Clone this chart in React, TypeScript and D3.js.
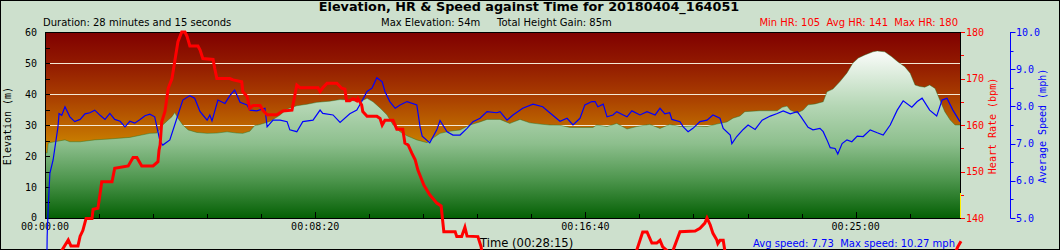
import React from "react";
import * as d3 from "d3";

// ---- data (time in seconds) ----
const elevTime = [0, 4, 6, 18, 37, 46, 65, 92, 120, 157, 194, 207, 218, 228, 235, 240, 246, 255, 265, 281, 300, 318, 337, 355, 366, 379, 388, 398, 416, 435, 448, 466, 485, 503, 527, 546, 564, 583, 596, 607, 620, 633, 644, 657, 670, 688, 707, 718, 731, 749, 768, 786, 805, 818, 842, 860, 879, 897, 916, 934, 953, 971, 990, 1014, 1021, 1040, 1058, 1077, 1095, 1119, 1138, 1156, 1175, 1199, 1225, 1243, 1262, 1273, 1286, 1295, 1323, 1355, 1364, 1373, 1379, 1392, 1403, 1412, 1425, 1440, 1447, 1458, 1471, 1484, 1495, 1505, 1517, 1532, 1540, 1554, 1567, 1578, 1591, 1601, 1610, 1619, 1628, 1637, 1647, 1656, 1665, 1675, 1684, 1695];
const elevValue = [21, 21, 24.2, 24.6, 25.2, 24.6, 24.6, 25.2, 25.5, 26, 27.3, 27.4, 30, 31.6, 32.7, 34, 32.2, 30, 28.4, 27.6, 27.3, 27.4, 27.8, 27.4, 27.3, 28, 29.8, 30.2, 31.1, 33.2, 35.2, 36.2, 36.7, 37.3, 37.7, 38.2, 38, 37.5, 38.6, 37.5, 35.5, 33.2, 30, 27.8, 26.5, 25.2, 24.3, 25.8, 27.3, 28, 28.4, 30, 31, 31.8, 31.8, 30.5, 31.8, 30.7, 30.3, 30, 29.9, 29.2, 29.2, 29.2, 30, 29.5, 30.5, 28.7, 29.5, 30.2, 28.9, 30.2, 29.5, 29.7, 29.5, 30.3, 31, 32.2, 32.9, 34.3, 34.6, 34.6, 35.7, 36.1, 34.8, 33.9, 34.8, 36.5, 36.8, 37.5, 40.7, 41.6, 44, 46.8, 50, 51.6, 52.6, 53.6, 53.9, 53.6, 52, 50.4, 48.8, 46.7, 42.9, 42.4, 42.2, 42.9, 41.8, 38, 34.3, 31.6, 30, 30];

const speedTime = [0, 4, 6, 9, 15, 24, 26, 31, 37, 46, 55, 65, 74, 83, 92, 102, 111, 120, 129, 139, 148, 157, 166, 176, 185, 194, 203, 213, 218, 231, 244, 255, 268, 277, 287, 300, 305, 309, 320, 333, 342, 351, 361, 374, 379, 392, 407, 411, 422, 435, 448, 453, 466, 477, 496, 509, 514, 533, 546, 564, 577, 586, 596, 605, 614, 624, 629, 638, 648, 657, 670, 688, 694, 698, 712, 725, 731, 744, 755, 768, 781, 792, 805, 818, 836, 842, 855, 866, 884, 903, 921, 934, 953, 966, 977, 990, 999, 1012, 1018, 1023, 1033, 1040, 1051, 1058, 1070, 1077, 1086, 1101, 1114, 1129, 1138, 1147, 1156, 1160, 1175, 1181, 1190, 1199, 1212, 1225, 1236, 1249, 1255, 1268, 1271, 1280, 1292, 1301, 1314, 1327, 1342, 1355, 1366, 1379, 1392, 1399, 1412, 1421, 1434, 1440, 1447, 1453, 1462, 1467, 1475, 1484, 1493, 1503, 1514, 1527, 1540, 1551, 1564, 1577, 1588, 1604, 1614, 1623, 1637, 1650, 1660, 1669, 1680, 1693];
const speedValue = [0, 4.5, 5.3, 6.2, 6.56, 7.45, 7.81, 7.76, 7.99, 7.72, 7.59, 7.65, 7.8, 7.83, 7.9, 7.76, 7.65, 7.81, 7.65, 7.6, 7.45, 7.6, 7.55, 7.65, 7.75, 7.79, 7.72, 7.05, 6.96, 7.1, 7.68, 8.17, 8.29, 8.22, 7.86, 7.63, 7.77, 7.61, 8.17, 8.08, 8.29, 8.44, 8.11, 8.04, 7.9, 7.88, 7.95, 7.45, 7.63, 7.63, 7.59, 7.37, 7.32, 7.59, 7.63, 7.9, 7.81, 7.77, 7.57, 7.8, 7.9, 8.13, 8.4, 8.49, 8.77, 8.66, 8.4, 8.13, 7.95, 8.04, 8.13, 8.04, 7.45, 7.2, 7.02, 7.37, 7.62, 7.32, 7.23, 7.23, 7.41, 7.59, 7.68, 7.86, 7.83, 7.86, 7.63, 7.77, 7.95, 8.06, 7.99, 7.83, 7.6, 7.68, 7.5, 7.68, 8.04, 8.13, 8.13, 7.99, 8.06, 7.72, 7.77, 7.86, 7.77, 7.72, 7.88, 7.77, 7.86, 7.77, 7.95, 7.8, 7.83, 7.65, 7.59, 7.45, 7.32, 7.41, 7.59, 7.63, 7.77, 7.68, 7.41, 7.23, 7.0, 7.19, 7.38, 7.5, 7.38, 7.63, 7.74, 7.81, 7.88, 7.8, 7.86, 7.72, 7.44, 7.37, 7.41, 7.32, 7.1, 6.89, 6.87, 6.72, 7.0, 7.1, 7.05, 7.2, 7.19, 7.37, 7.29, 7.23, 7.5, 7.9, 8.15, 7.98, 8.13, 8.22, 7.9, 7.74, 8.17, 8.22, 7.9, 7.59];

const hrTime = [0, 18, 31, 43, 48, 61, 65, 70, 76, 87, 89, 98, 102, 105, 124, 129, 154, 163, 170, 179, 200, 209, 211, 213, 216, 222, 228, 235, 240, 246, 253, 259, 263, 268, 283, 287, 292, 311, 314, 318, 342, 348, 364, 366, 374, 379, 385, 398, 403, 411, 429, 440, 457, 466, 472, 505, 509, 514, 522, 540, 549, 555, 558, 564, 570, 577, 579, 586, 588, 596, 614, 620, 624, 629, 644, 651, 662, 666, 672, 679, 685, 690, 701, 712, 725, 733, 738, 759, 762, 771, 777, 781, 801, 807, 814, 842, 953, 1064, 1088, 1095, 1106, 1114, 1123, 1132, 1138, 1143, 1151, 1156, 1162, 1175, 1203, 1212, 1221, 1225, 1231, 1236, 1243, 1245, 1249, 1255, 1258, 1268, 1397, 1582, 1675, 1689, 1695];
const hrValue = [105, 118, 133, 135.3, 134, 134, 136.1, 137.3, 139.9, 139.9, 141.9, 142.1, 145.3, 147.8, 147.8, 150.7, 151.2, 153, 153, 151.2, 151.2, 152.1, 154.6, 155.7, 160.7, 162.9, 167.9, 170, 173.6, 177.9, 180, 180, 179, 177, 177, 176.1, 174.3, 174.1, 172.2, 170, 170, 169.7, 169.3, 167.2, 166.1, 163.6, 164.2, 164.2, 163.2, 162.2, 162.2, 163, 163.2, 168.6, 168, 168, 167.2, 168, 169, 169, 167.9, 167.7, 165.2, 165.2, 165.7, 165.2, 165.7, 164.3, 162.9, 161.9, 161.9, 161.4, 160, 161, 161, 159.1, 159.1, 156.1, 155.7, 153.9, 152.5, 150.3, 147.1, 145, 143.2, 142.6, 137.05, 137.05, 136, 136, 138, 136.1, 136, 133.8, 128, 126, 124, 127, 130, 133.1, 137, 137, 134.6, 134.6, 135.2, 133.8, 133, 130, 133, 137.05, 137.2, 137.8, 138.9, 140, 138.5, 136.7, 135.3, 134.5, 135.2, 135.2, 133, 128, 125, 127, 130, 133.8, 135];

const elevTicks = [0, 10, 20, 30, 40, 50, 60];
const hrTicks = [140, 150, 160, 170, 180];
const speedTicks = [5, 6, 7, 8, 9, 10];
const timeTicks = [0, 500, 1000, 1500];

const titleText = "Elevation, HR & Speed against Time for 20180404_164051";
const durationText = "Duration: 28 minutes and 15 seconds";
const maxElevText = "Max Elevation: 54m";
const gainText = "Total Height Gain: 85m";
const hrStatsText = "Min HR: 105  Avg HR: 141  Max HR: 180";
const timeLabel = "Time (00:28:15)";
const speedStatsText = "Avg speed: 7.73  Max speed: 10.27 mph";

const W = 1060, H = 250;
const L = 45, R = 961, T = 32, B = 218;

const fmtTime = (s: number) => {
  const h = Math.floor(s / 3600), m = Math.floor((s % 3600) / 60), sec = s % 60;
  const p = (n: number) => String(n).padStart(2, "0");
  return `${p(h)}:${p(m)}:${p(sec)}`;
};

export default function App() {
  const x = d3.scaleLinear().domain([0, 1695]).range([L, R]);
  const yE = d3.scaleLinear().domain([0, 60]).range([B, T]);
  const yH = d3.scaleLinear().domain([140, 180]).range([B, T]);
  const yS = d3.scaleLinear().domain([5, 10]).range([B, T]);

  const elev = elevTime.map((t, i) => [t, elevValue[i]] as [number, number]);
  const speed = speedTime.map((t, i) => [t, speedValue[i]] as [number, number]);
  const hr = hrTime.map((t, i) => [t, hrValue[i]] as [number, number]);

  const area = d3.area<[number, number]>().x(d => x(d[0])).y0(B).y1(d => yE(d[1]));
  const elevLine = d3.line<[number, number]>().x(d => x(d[0])).y(d => yE(d[1]));
  const speedLine = d3.line<[number, number]>().x(d => x(d[0])).y(d => yS(d[1]));
  const hrLine = d3.line<[number, number]>().x(d => x(d[0])).y(d => yH(d[1]));

  const mono = "'DejaVu Sans Mono', monospace";
  const sans = "'DejaVu Sans', sans-serif";
  const pre = { whiteSpace: "pre" as const };

  const elevMinor = d3.range(0, 61, 5);
  const hrMinor = d3.range(140, 181, 5);
  const speedMinor = d3.range(5, 10.01, 0.5);
  const timeMinor = d3.range(0, 1695, 100);

  return (
    <svg width={W} height={H} style={{ position: "absolute", left: 0, top: 0, display: "block" }}>
      <defs>
        <linearGradient id="bg" gradientUnits="userSpaceOnUse" x1="0" y1={T} x2="0" y2={B}>
          <stop offset="0" stopColor="#800000" />
          <stop offset="0.17" stopColor="#921a00" />
          <stop offset="0.34" stopColor="#a83c00" />
          <stop offset="0.5" stopColor="#bc6400" />
          <stop offset="0.62" stopColor="#cc8400" />
          <stop offset="1" stopColor="#e0a800" />
        </linearGradient>
        <linearGradient id="gr" gradientUnits="userSpaceOnUse" x1="0" y1={T} x2="0" y2={B}>
          <stop offset="0" stopColor="#ffffff" />
          <stop offset="0.12" stopColor="#f6faf6" />
          <stop offset="0.4" stopColor="#b4d6b4" />
          <stop offset="0.6" stopColor="#8dbf8d" />
          <stop offset="0.8" stopColor="#4b944b" />
          <stop offset="1" stopColor="#046004" />
        </linearGradient>
      </defs>
      <rect x={0} y={0} width={W} height={H} fill="#cde0cd" />
      <rect x={0.5} y={0.5} width={W - 1} height={H - 1} fill="none" stroke="#000" />

      <rect x={L} y={T} width={R - L} height={B - T} fill="url(#bg)" />
      {elevTicks.slice(1, -1).map(v => (
        <line key={"g" + v} x1={L} x2={R} y1={Math.round(yE(v)) + 0.5} y2={Math.round(yE(v)) + 0.5} stroke="#f4e8d4" strokeWidth={1} />
      ))}
      <path d={area(elev) || ""} fill="url(#gr)" />
      <path d={elevLine(elev) || ""} fill="none" stroke="#1f6e1f" strokeWidth={0.7} strokeOpacity={0.6} />

      {/* frame */}
      <rect x={L + 0.5} y={T + 0.5} width={R - L - 1} height={B - T} fill="none" stroke="#000" strokeWidth={1} />
      <line x1={R - 0.5} x2={R - 0.5} y1={193} y2={B} stroke="#ffee00" strokeWidth={1} />

      {/* elevation axis ticks (inside) */}
      {elevMinor.map(v => (
        <line key={"et" + v} x1={L} x2={L + 5} y1={Math.round(yE(v)) + 0.5} y2={Math.round(yE(v)) + 0.5} stroke="#000" />
      ))}
      {elevTicks.map(v => (
        <text key={"el" + v} x={37} y={yE(v) - (v === 0 ? 1 : 0)} dy="0.35em" textAnchor="end" fontFamily={mono} fontSize={10} fill="#000">{v}</text>
      ))}

      {/* time axis ticks */}
      {timeMinor.map(v => (
        <line key={"tt" + v} x1={Math.round(x(v)) + 0.5} x2={Math.round(x(v)) + 0.5} y1={B} y2={B - (v % 500 === 0 ? 6 : 4)} stroke="#000" />
      ))}
      {timeTicks.map(v => (
        <text key={"tl" + v} x={x(v)} y={230} textAnchor="middle" fontFamily={mono} fontSize={10} fill="#000">{fmtTime(v)}</text>
      ))}

      {/* HR axis */}
      {hrMinor.map(v => (
        <line key={"ht" + v} x1={R} x2={R + (v % 10 === 0 ? 4 : 3)} y1={Math.round(yH(v)) + 0.5} y2={Math.round(yH(v)) + 0.5} stroke="#ff0000" />
      ))}
      {hrTicks.map(v => (
        <text key={"hl" + v} x={966} y={yH(v)} dy="0.35em" fontFamily={mono} fontSize={10} fill="#ff0000">{v}</text>
      ))}
      <text transform={`translate(992,126) rotate(-90)`} textAnchor="middle" dy="0.35em" fontFamily={mono} fontSize={10} fill="#ff0000">Heart Rate (bpm)</text>

      {/* speed axis */}
      <line x1={1010.5} x2={1010.5} y1={T} y2={B + 0.5} stroke="#0000ff" />
      {speedMinor.map(v => (
        <line key={"st" + v} x1={1010.5} x2={1010.5 + (Math.abs(v - Math.round(v)) < 0.01 ? 5 : 3)} y1={Math.round(yS(v)) + 0.5} y2={Math.round(yS(v)) + 0.5} stroke="#0000ff" />
      ))}
      {speedTicks.map(v => (
        <text key={"sl" + v} x={1016} y={yS(v)} dy="0.35em" fontFamily={mono} fontSize={10} fill="#0000ff">{v.toFixed(1)}</text>
      ))}
      <text transform={`translate(1042,126) rotate(-90)`} textAnchor="middle" dy="0.35em" fontFamily={mono} fontSize={10} fill="#0000ff">Average Speed (mph)</text>

      <text transform={`translate(7,126) rotate(-90)`} textAnchor="middle" dy="0.35em" fontFamily={mono} fontSize={10} fill="#000">Elevation (m)</text>

      {/* series lines */}
      <path d={speedLine(speed) || ""} fill="none" stroke="#0000ff" strokeWidth={1.2} />
      <path d={hrLine(hr) || ""} fill="none" stroke="#ff0000" strokeWidth={3} strokeLinejoin="miter" />

      {/* texts */}
      <text x={529} y={11} textAnchor="middle" fontFamily={sans} fontWeight="bold" fontSize={12.8} fill="#000">{titleText}</text>
      <text x={43} y={26} fontFamily={sans} fontSize={10} fill="#000">{durationText}</text>
      <text x={381} y={26} fontFamily={sans} fontSize={10} fill="#000">{maxElevText}</text>
      <text x={497} y={26} fontFamily={sans} fontSize={10} fill="#000">{gainText}</text>
      <text x={958} y={26} textAnchor="end" fontFamily={sans} fontSize={10} fill="#ff0000" style={pre}>{hrStatsText}</text>
      <text x={480} y={247} fontFamily={sans} fontSize={11.6} fill="#000">{timeLabel}</text>
      <text x={955} y={247} textAnchor="end" fontFamily={sans} fontSize={10} fill="#0000ff" style={pre}>{speedStatsText}</text>
    </svg>
  );
}
